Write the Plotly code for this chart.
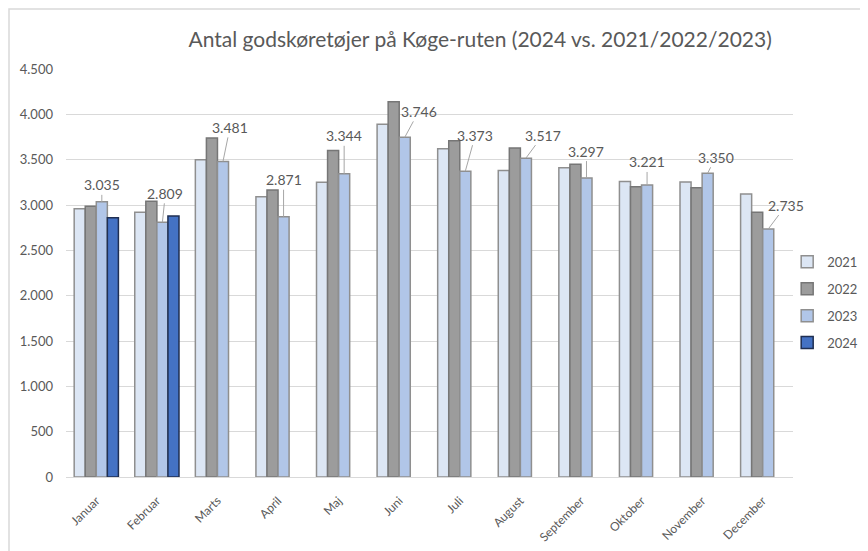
import plotly.graph_objects as go

months = ["Januar", "Februar", "Marts", "April", "Maj", "Juni", "Juli",
          "August", "September", "Oktober", "November", "December"]
v2021 = [2960, 2920, 3500, 3090, 3250, 3890, 3620, 3380, 3410, 3260, 3255, 3120]
v2022 = [2985, 3040, 3740, 3165, 3600, 4140, 3710, 3630, 3450, 3200, 3190, 2920]
v2023 = [3035, 2809, 3481, 2871, 3344, 3746, 3373, 3517, 3297, 3221, 3350, 2735]
v2024 = [2860, 2880, None, None, None, None, None, None, None, None, None, None]

# label offsets (pixels) for 2023 data labels
label_dx = [0, 3, 7, 0, 0, 14, 10, 17, 0, 0, 8, 18]
label_dy = [-17, -29, -34, -37, -38, -26, -36, -23, -27, -23, -16, -24]

FONT = "Lato"
GREY = "#595959"

series = [
    ("2021", v2021, "#DCE6F4", "#8F8F8F"),
    ("2022", v2022, "#9C9C9C", "#767676"),
    ("2023", v2023, "#B1C6E8", "#8F8F8F"),
    ("2024", v2024, "#4472C4", "#1F2F52"),
]

fig = go.Figure()
for name, vals, fill, line in series:
    fig.add_trace(go.Bar(
        x=months, y=vals, name=name, legendgroup=name,
        marker=dict(color=fill, line=dict(color=line, width=1.5)),
        hoverinfo="x+y+name",
    ))

bargap = 0.27
bw = (1 - bargap) / 4
for i, (v, dx, dy) in enumerate(zip(v2023, label_dx, label_dy)):
    fig.add_annotation(
        x=i + 0.5 * bw, y=v, xref="x", yref="y",
        text=f"{v:,}".replace(",", "."),
        showarrow=True, arrowhead=0, arrowwidth=1, arrowcolor="#A6A6A6",
        ax=dx, ay=dy, standoff=0, startstandoff=0,
        font=dict(family=FONT, size=14, color=GREY),
    )

# outer chart border
fig.add_shape(type="rect", xref="paper", yref="paper",
              x0=-0.0784, x1=1.12, y0=-0.22, y1=1.147,
              line=dict(color="#D9D9D9", width=1.5), fillcolor="rgba(0,0,0,0)")

fig.update_layout(
    width=868, height=551,
    margin=dict(l=58, r=83, t=61, b=82, autoexpand=False),
    paper_bgcolor="white", plot_bgcolor="white",
    separators=",.",
    barmode="group", bargap=bargap, bargroupgap=0,
    font=dict(family=FONT, color=GREY, size=12),
    title=dict(text="Antal godskøretøjer på Køge-ruten (2024 vs. 2021/2022/2023)",
               x=0.544, xanchor="center", y=0.942, yanchor="middle",
               font=dict(family=FONT, size=21, color=GREY)),
    legend=dict(x=0.992, xanchor="left", y=0.428, yanchor="middle",
                font=dict(family=FONT, size=13, color=GREY),
                tracegroupgap=7, bgcolor="rgba(0,0,0,0)"),
    showlegend=True,
)
fig.update_yaxes(range=[0, 4500], dtick=500, tickformat=",d",
                 showgrid=True, gridcolor="#D9D9D9", gridwidth=1,
                 zeroline=False, showline=False, ticks="",
                 ticklabelstandoff=12,
                 tickfont=dict(family=FONT, size=13, color=GREY))
fig.update_xaxes(range=[-0.5, len(months) - 0.5],
                 showline=True, linecolor="#D9D9D9", linewidth=1,
                 tickangle=-45, ticks="", ticklabelstandoff=11,
                 tickfont=dict(family=FONT, size=12, color=GREY))

fig.write_html("out.html")
